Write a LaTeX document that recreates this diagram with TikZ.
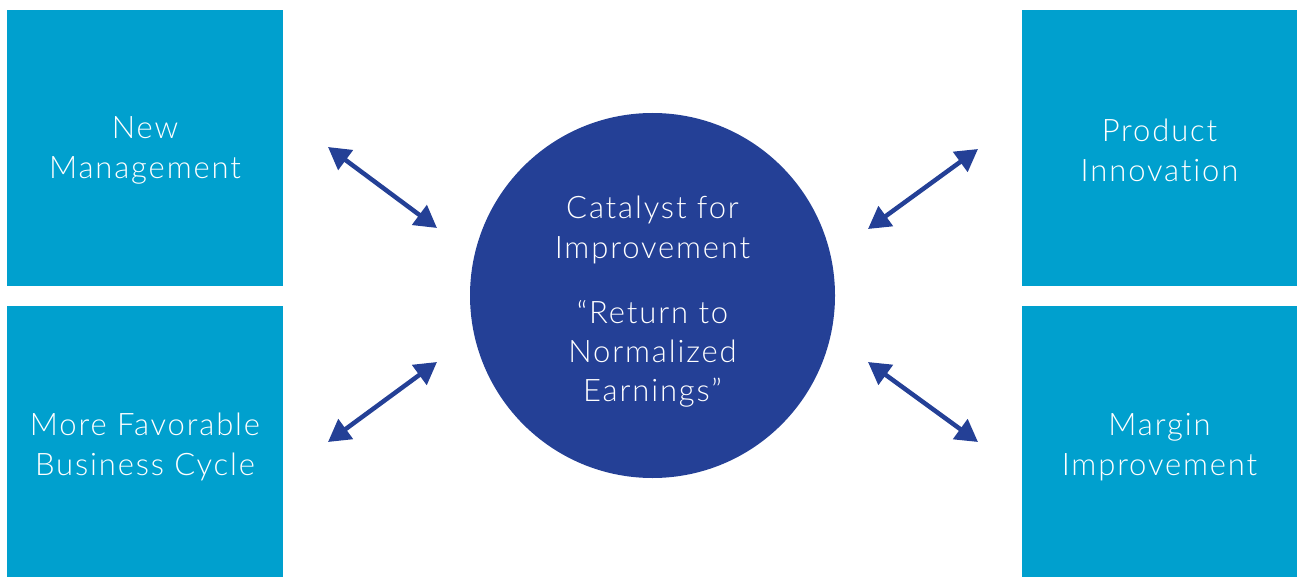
\documentclass[tikz,border=0pt]{standalone}
\usepackage{fontspec}
\setmainfont{Lato Light}[Ligatures=NoCommon]
\usetikzlibrary{arrows.meta}
\definecolor{boxblue}{HTML}{00A0CE}
\definecolor{navy}{HTML}{244096}
\tikzset{
  sqbox/.style={fill=boxblue, draw=none, minimum width=276pt, minimum height=276pt, inner sep=0pt},
  lbl/.style={text=white, align=center, inner sep=0pt, font=\fontsize{31}{40}\selectfont\addfontfeatures{LetterSpace=6}},
  hub/.style={circle, fill=navy, draw=none, minimum size=365pt, inner sep=0pt},
  dblarrow/.style={draw=navy, line width=4.5pt, {Triangle[length=22pt,width=24pt]}-{Triangle[length=22pt,width=24pt]}}
}
\begin{document}
\begin{tikzpicture}[x=1pt,y=1pt]
\useasboundingbox (0,0) rectangle (1297,-577);
\node[sqbox] (tl) at (145,-148) {};
\node[sqbox, minimum height=272pt] (bl) at (145,-442) {};
\node[sqbox, minimum width=275pt] (tr) at (1159.5,-148) {};
\node[sqbox, minimum width=275pt, minimum height=272pt] (br) at (1159.5,-442) {};
\node[hub] (c) at (652.5,-295.5) {};
\node[lbl] (ltl) at (145,-150) {New\\Management};
\node[lbl] (lbl) at (145,-447) {More Favorable\\Business Cycle};
\node[lbl] (ltr) at (1159.5,-150) {Product\\Innovation};
\node[lbl] (lbr) at (1159.5,-447) {Margin\\Improvement};
\node[lbl] (t1) at (652.5,-230) {Catalyst for\\Improvement};
\node[lbl, font=\fontsize{31}{39}\selectfont\addfontfeatures{LetterSpace=6}] (t2) at (652.5,-354) {“Return to\\Normalized\\Earnings”};
\coordinate (a1s) at (328,-147);
\coordinate (a1e) at (437,-228);
\coordinate (a2s) at (328,-442);
\coordinate (a2e) at (437,-362);
\coordinate (a3s) at (978,-149);
\coordinate (a3e) at (868,-229);
\coordinate (a4s) at (868,-362);
\coordinate (a4e) at (978,-442);
\draw[dblarrow] (a1s) -- (a1e);
\draw[dblarrow] (a2s) -- (a2e);
\draw[dblarrow] (a3s) -- (a3e);
\draw[dblarrow] (a4s) -- (a4e);
\end{tikzpicture}
\end{document}
